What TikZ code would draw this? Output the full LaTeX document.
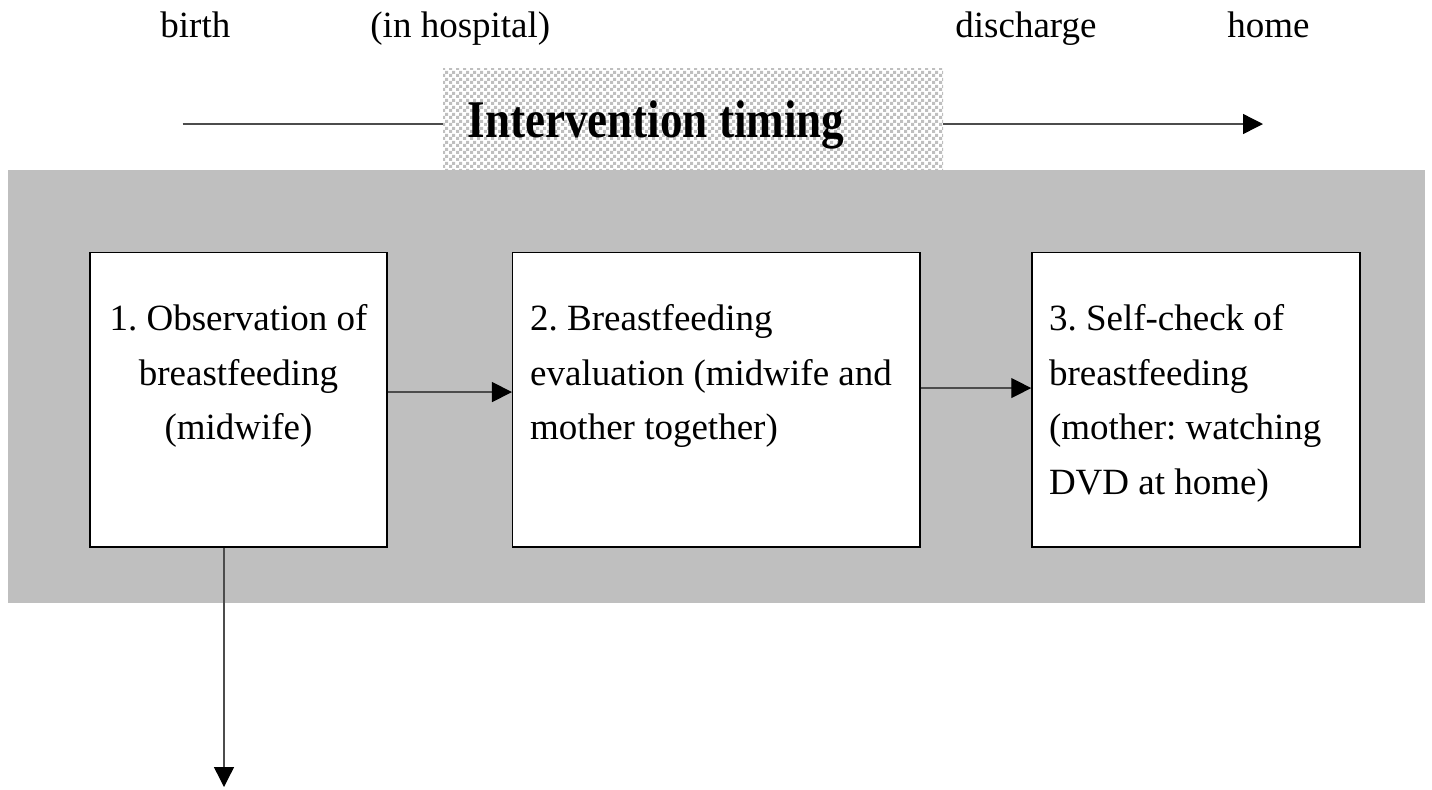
\documentclass[tikz,border=0pt]{standalone}
\usepackage{fontspec}
\setmainfont{Liberation Serif}
\usepackage{graphicx}
\usepackage{tikz}
\usetikzlibrary{positioning}
\usetikzlibrary{arrows.meta,patterns}

\def\boxfont{\fontsize{18.5}{27.25}\selectfont}

\pgfdeclarepatternformonly{finecheck}{\pgfpointorigin}{\pgfqpoint{3.3pt}{3.3pt}}{\pgfqpoint{3.3pt}{3.3pt}}{
  \pgfpathrectangle{\pgfpointorigin}{\pgfqpoint{1.65pt}{1.65pt}}
  \pgfpathrectangle{\pgfqpoint{1.65pt}{1.65pt}}{\pgfqpoint{1.65pt}{1.65pt}}
  \pgfusepath{fill}}

\frenchspacing

\begin{document}
\begin{tikzpicture}[x=0.5pt, y=-0.5pt,
    stepbox/.style={draw=black, line width=0.75pt, fill=white, inner sep=0pt},
    flow/.style={-{Triangle[length=10pt,width=10pt,black]}, line width=0.7pt, draw=black!70},
    timeline/.style={line width=0.7pt, draw=black!70},
    toplabel/.style={anchor=base west, inner sep=0pt, font=\boxfont}]

  \useasboundingbox (0,0) rectangle (1432,789);

 %top labels
    \foreach \x/\txt/\name in {160/birth/lbirth, 370/(in hospital)/lhosp, 955/discharge/ldis, 1227/home/lhome} {
         \node[toplabel] (\name) at (\x, 37) {\txt};
    }

 %timing bar
    \node[pattern=finecheck, pattern color=black!25, minimum width=250pt, minimum height=56pt,
          inner sep=0pt, text height=13pt, text depth=0pt] (timing) at (693,124)
          {\fontsize{26.5}{30}\selectfont\bfseries\scalebox{0.85}[1]{Intervention timing}\hspace*{37pt}};

    \coordinate (tstart) at (182.7,124);
    \coordinate (tend) at (1263,124);
    \draw[timeline] (tstart) -- (timing.west);
    \draw[flow] (timing.east) -- (tend);

 %gray panel
    \fill[black!25] (8,170) rectangle (1425,603);

 %boxes
    \node[stepbox] (obs) at (238.5,399.85)
         {\parbox[c][147.15pt][t]{148.5pt}{\boxfont\centering\rule{0pt}{39pt}1. Observation of\\ breastfeeding\\ (midwife)}};
    \node[stepbox] (eval) at (716.35,399.85)
         {\parbox[c][147.15pt][t]{203.65pt}{\boxfont\raggedright\leftskip=8.75pt\rule{0pt}{39pt}2. Breastfeeding\\ evaluation (midwife and\\ mother together)}};
    \node[stepbox] (self) at (1196,399.85)
         {\parbox[c][147.15pt][t]{164pt}{\boxfont\raggedright\leftskip=8.5pt\rule{0pt}{39pt}3. Self-check of\\ breastfeeding\\ (mother: watching\\ DVD at home)}};

 %arrows
    \draw[flow] ([yshift=3.9pt]obs.east) -- ([yshift=3.9pt]eval.west);
    \draw[flow] ([yshift=5.9pt]eval.east) -- ([yshift=5.9pt]self.west);

    \coordinate (out) at (224,787);
    \draw[flow] ([xshift=-7.25pt]obs.south) -- (out);

\end{tikzpicture}
\end{document}
